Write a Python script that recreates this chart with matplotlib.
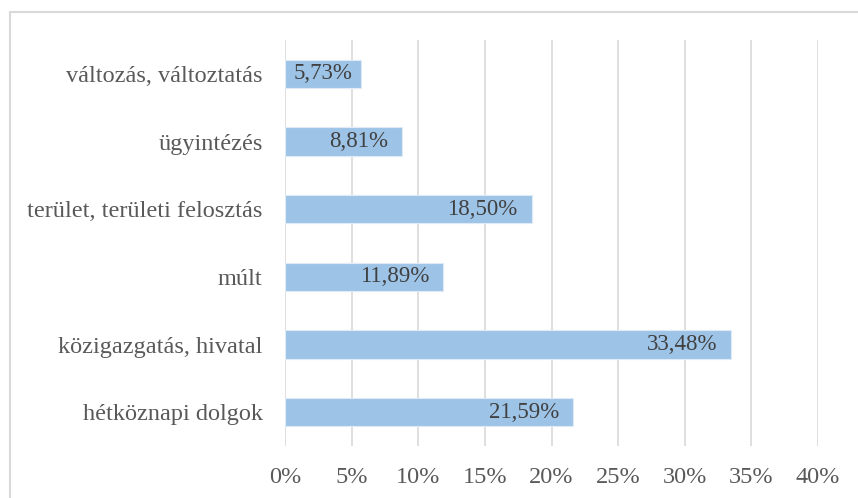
import matplotlib.pyplot as plt
from matplotlib.lines import Line2D
from matplotlib.ticker import FuncFormatter

# categories listed bottom to top
categories = ["hétköznapi dolgok", "közigazgatás, hivatal", "múlt",
              "terület, területi felosztás", "ügyintézés", "változás, változtatás"]
shares = [21.59, 33.48, 11.89, 18.50, 8.81, 5.73]
xticks = [0, 5, 10, 15, 20, 25, 30, 35, 40]

plt.rcParams['font.family'] = ['Liberation Serif', 'DejaVu Serif']

W, H = 858, 498
fig = plt.figure(figsize=(W / 100, H / 100), dpi=100)
ax = fig.add_axes([285 / W, 1 - 446 / H, (818 - 285) / W, (446 - 40) / H])

pos = list(range(len(categories)))
ax.barh(pos, shares, height=0.42, color='#9DC3E6', edgecolor='#DEEBF7',
        linewidth=0.8, zorder=3)

for y, v in zip(pos, shares):
    txt = f"{v:.2f}%".replace('.', ',')
    if v < 7:
        ax.text(v / 2, y, txt, ha='center', va='center', fontsize=16.5,
                color='#404040', zorder=4)
    else:
        ax.annotate(txt, (v, y), xytext=(-10, 0), textcoords='offset points',
                    ha='right', va='center', fontsize=16.5, color='#404040', zorder=4)

ax.set_xlim(0, 40)
ax.set_ylim(-0.5, len(categories) - 0.5)
ax.set_xticks(xticks)
ax.xaxis.set_major_formatter(FuncFormatter(lambda x, _: f"{x:.0f}%"))
ax.set_yticks(pos)
ax.set_yticklabels(categories)
ax.grid(axis='x', color='#D9D9D9', linewidth=1.2, zorder=0)
for s in ax.spines.values():
    s.set_visible(False)
ax.tick_params(axis='both', length=0, labelsize=17.5, labelcolor='#595959')
ax.tick_params(axis='y', pad=16)
ax.tick_params(axis='x', pad=15)

# chart area frame (top and left edges)
fig.add_artist(Line2D([10 / W, 1], [1 - 12 / H, 1 - 12 / H], color='#D9D9D9', linewidth=1.5))
fig.add_artist(Line2D([10 / W, 10 / W], [0, 1 - 12 / H], color='#D9D9D9', linewidth=1.5))

fig.savefig('out.png', dpi=100)
